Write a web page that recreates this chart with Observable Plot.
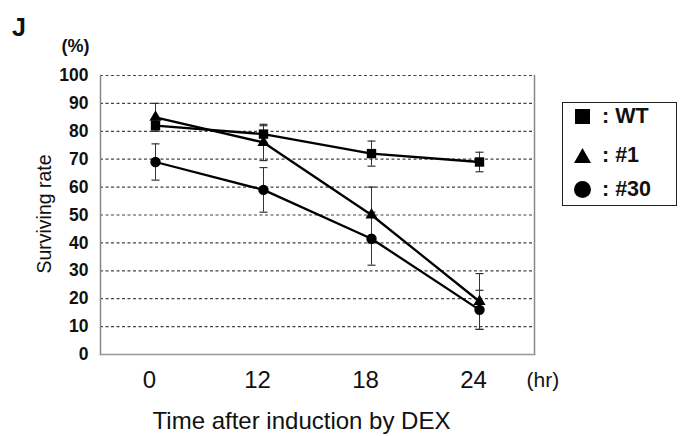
<!DOCTYPE html>
<html>
<head>
<meta charset="utf-8">
<script src="https://cdn.jsdelivr.net/npm/d3@7"></script>
<script src="https://cdn.jsdelivr.net/npm/@observablehq/plot@0.6"></script>
<style>
  html, body { margin: 0; padding: 0; background: #fff; }
  #wrap { position: relative; width: 684px; height: 436px; font-family: "Liberation Sans", Arial, Helvetica, sans-serif; }
  #legend { position: absolute; left: 562px; top: 102px; width: 115px; height: 104px; border: 1.5px solid #222; box-sizing: border-box; }
  .row { position: absolute; left: 11px; display: flex; align-items: center; font-weight: bold; font-size: 21.5px; color: #111; }
  .row svg { margin-right: 11px; }
</style>
</head>
<body>
<div id="wrap"></div>
<script>
// ---- data ----
const times = ["0", "12", "18", "24"];
const seriesNames = ["WT", "#1", "#30"];
const wtMean = [82, 79, 72, 69];
const wtErr = [2, 3, 4.5, 3.5];
const n1Mean = [85, 76, 50, 19];
const n1Err = [5, 6.5, 10, 10];
const n30Mean = [69, 59, 41.5, 16];
const n30Err = [6.5, 8, 9.5, 7];
const yTicks = [0, 10, 20, 30, 40, 50, 60, 70, 80, 90, 100];
const gridLines = [10, 20, 30, 40, 50, 60, 70, 80, 90, 100];

const means = [wtMean, n1Mean, n30Mean];
const errs = [wtErr, n1Err, n30Err];
const rows = seriesNames.flatMap((s, k) => times.map((t, i) => ({
  series: s, time: t, value: means[k][i], lo: means[k][i] - errs[k][i], hi: means[k][i] + errs[k][i]
})));
const bySeries = s => rows.filter(d => d.series === s);

// horizontal cap symbol for error bars
const capSymbol = {
  draw(context, size) {
    const w = Math.sqrt(size / Math.PI);
    context.moveTo(-w, 0);
    context.lineTo(w, 0);
  }
};

const font = "Liberation Sans, Arial, Helvetica, sans-serif";
const label = (t, o) => Plot.text([t], { text: d => d, textAnchor: "middle", lineAnchor: "middle", fill: "#111", ...o });

const chart = Plot.plot({
  width: 684,
  height: 436,
  marginLeft: 100,
  marginRight: 150,
  marginTop: 75,
  marginBottom: 82,
  style: { fontFamily: font, background: "#fff", color: "#111" },
  x: { type: "point", domain: times, padding: 0.5 },
  y: { domain: [0, 100] },
  marks: [
    Plot.ruleY(gridLines, { stroke: "#444", strokeWidth: 1.2, strokeDasharray: "3,2.5" }),
    Plot.frame({ anchor: "left", stroke: "#888", strokeWidth: 1.5 }),
    Plot.frame({ anchor: "right", stroke: "#888", strokeWidth: 1.5 }),
    Plot.frame({ anchor: "bottom", stroke: "#999", strokeWidth: 1.5 }),
    Plot.axisY(yTicks, { tickSize: 0, tickPadding: 12, fontSize: 17.5, fontWeight: "bold", fill: "#111", label: null }),
    Plot.axisX({ tickSize: 0, tickPadding: 16, fontSize: 24, dx: -6, fill: "#111", label: null }),
    label("(hr)", { frameAnchor: "bottom-right", dx: -8, dy: 26, textAnchor: "start", fontSize: 21 }),
    label("Time after induction by DEX", { frameAnchor: "bottom", dx: -16, dy: 67, fontSize: 24 }),
    label("Surviving rate", { frameAnchor: "left", dx: -56, dy: -1, rotate: -90, fontSize: 19.5 }),
    label("(%)", { frameAnchor: "top-left", dx: -25, dy: -29.5, fontSize: 18, fontWeight: "bold" }),
    label("J", { frameAnchor: "top-left", dx: -81.5, dy: -47.5, fontSize: 25, fontWeight: "bold" }),
    Plot.ruleX(rows, { x: "time", y1: "lo", y2: "hi", stroke: "#333", strokeWidth: 1 }),
    Plot.dot(rows, { x: "time", y: "lo", symbol: capSymbol, r: 4, stroke: "#333", strokeWidth: 1.2, fill: "none" }),
    Plot.dot(rows, { x: "time", y: "hi", symbol: capSymbol, r: 4, stroke: "#333", strokeWidth: 1.2, fill: "none" }),
    Plot.line(rows, { x: "time", y: "value", z: "series", stroke: "#000", strokeWidth: 2.3 }),
    Plot.dot(bySeries("WT"), { x: "time", y: "value", symbol: "square", r: 5.3, fill: "#000" }),
    Plot.dot(bySeries("#1"), { x: "time", y: "value", symbol: "triangle", r: 4.5, fill: "#000" }),
    Plot.dot(bySeries("#30"), { x: "time", y: "value", symbol: "circle", r: 5.2, fill: "#000" })
  ]
});

const wrap = document.getElementById("wrap");
wrap.appendChild(chart);

// legend
const legend = document.createElement("div");
legend.id = "legend";
const shapes = {
  "WT": '<rect x="1" y="1" width="15" height="15" fill="#000"/>',
  "#1": '<polygon points="8.5,1 17,16 0,16" fill="#000"/>',
  "#30": '<circle cx="8.5" cy="8.5" r="8.5" fill="#000"/>'
};
const tops = [1, 40, 74];
seriesNames.forEach((s, i) => {
  const row = document.createElement("div");
  row.className = "row";
  row.style.top = tops[i] + "px";
  row.innerHTML = `<svg width="17" height="17" viewBox="0 0 17 17">${shapes[s]}</svg><span>: ${s}</span>`;
  legend.appendChild(row);
});
wrap.appendChild(legend);
</script>
</body>
</html>
